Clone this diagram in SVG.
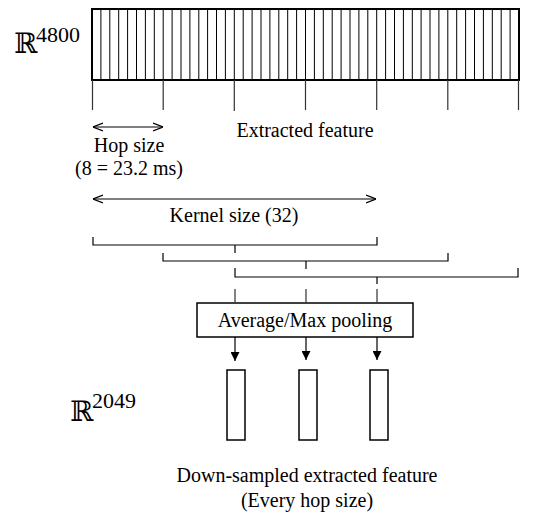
<svg xmlns="http://www.w3.org/2000/svg" width="540" height="526" viewBox="0 0 540 526">
<style>
  .t { font-family: "Liberation Serif", "Times New Roman", serif; font-size: 20px; fill: #000; }
  .bb { font-family: "DejaVu Serif", "DejaVu Sans", serif; font-size: 28px; fill: #000; }
  .sup { font-family: "Liberation Serif", "Times New Roman", serif; font-size: 22px; fill: #000; }
  .ln { stroke: #000; stroke-width: 1.2; fill: none; }
  .tick { stroke: #333; stroke-width: 1.2; fill: none; }
  .box { stroke: #000; stroke-width: 1.5; fill: #fff; }
</style>
<defs>
  <marker id="open" viewBox="0 0 10 10" refX="10" refY="5" markerWidth="10" markerHeight="10" markerUnits="userSpaceOnUse" orient="auto-start-reverse">
    <path d="M0,1 L10,5 L0,9" fill="none" stroke="#000" stroke-width="1.2"/>
  </marker>
  <marker id="fill" viewBox="0 0 10 10" refX="10" refY="5" markerWidth="9" markerHeight="9" markerUnits="userSpaceOnUse" orient="auto">
    <path d="M0,0 L10,5 L0,10 Z" fill="#000"/>
  </marker>
</defs>
<rect width="540" height="526" fill="#fff"/>

<g id="input-feature">
  <text class="bb" x="14" y="53">ℝ</text>
  <text class="sup" x="36" y="42">4800</text>
  <rect x="92" y="9" width="427" height="71" fill="#fff" stroke="#000" stroke-width="2"/>
  <path stroke="#000" stroke-width="1" d="M100.9,9V80M109.8,9V80M118.7,9V80M127.6,9V80M136.5,9V80M145.4,9V80M154.3,9V80M163.2,9V80M172.1,9V80M181,9V80M189.9,9V80M198.8,9V80M207.6,9V80M216.5,9V80M225.4,9V80M234.3,9V80M243.2,9V80M252.1,9V80M261,9V80M269.9,9V80M278.8,9V80M287.7,9V80M296.6,9V80M305.5,9V80M314.4,9V80M323.3,9V80M332.2,9V80M341.1,9V80M350,9V80M358.9,9V80M367.8,9V80M376.7,9V80M385.6,9V80M394.5,9V80M403.4,9V80M412.3,9V80M421.1,9V80M430,9V80M438.9,9V80M447.8,9V80M456.7,9V80M465.6,9V80M474.5,9V80M483.4,9V80M492.3,9V80M501.2,9V80M510.1,9V80"/>
  <path class="tick" d="M92.5,80V110M163.2,80V110M234.3,80V111M305.5,80V110M376.7,80V110M447.8,80V110M518.5,80V110"/>
  <text class="t" x="305" y="137" text-anchor="middle">Extracted feature</text>
</g>

<g id="hop-size">
  <text class="t" x="129" y="152" text-anchor="middle">Hop size</text>
  <text class="t" x="129" y="175" text-anchor="middle">(8 = 23.2 ms)</text>
</g>

<g id="kernel-size">
  <text class="t" x="234" y="222" text-anchor="middle">Kernel size (32)</text>
</g>

<g id="pooling">
  <rect class="box" x="197" y="303" width="216" height="34"/>
  <text class="t" x="305" y="327" text-anchor="middle">Average/Max pooling</text>
</g>

<g id="output-feature">
  <text class="bb" x="70" y="421">ℝ</text>
  <text class="sup" x="92" y="408">2049</text>
  <rect x="227" y="370" width="18" height="70" fill="#fff" stroke="#000" stroke-width="1.5"/>
  <rect x="299" y="370" width="18" height="70" fill="#fff" stroke="#000" stroke-width="1.5"/>
  <rect x="370" y="370" width="18" height="70" fill="#fff" stroke="#000" stroke-width="1.5"/>
  <text class="t" x="307" y="482" text-anchor="middle">Down-sampled extracted feature</text>
  <text class="t" x="307" y="507" text-anchor="middle">(Every hop size)</text>
</g>

<g id="connectors">
  <path class="ln" d="M93,127H163" marker-start="url(#open)" marker-end="url(#open)"/>
  <path class="ln" d="M93,199H376" marker-start="url(#open)" marker-end="url(#open)"/>
  <path class="ln" d="M93,237V245H377V237M235,245V253"/>
  <path class="ln" d="M163,253V261H448V253M306,261V269"/>
  <path class="ln" d="M235,268V277H518V268M377,277V284"/>
  <path class="tick" d="M235,289V303M306,289V303M377,289V303"/>
  <path class="ln" d="M235,337V361" marker-end="url(#fill)"/>
  <path class="ln" d="M306,337V360" marker-end="url(#fill)"/>
  <path class="ln" d="M377,337V360" marker-end="url(#fill)"/>
</g>
</svg>
